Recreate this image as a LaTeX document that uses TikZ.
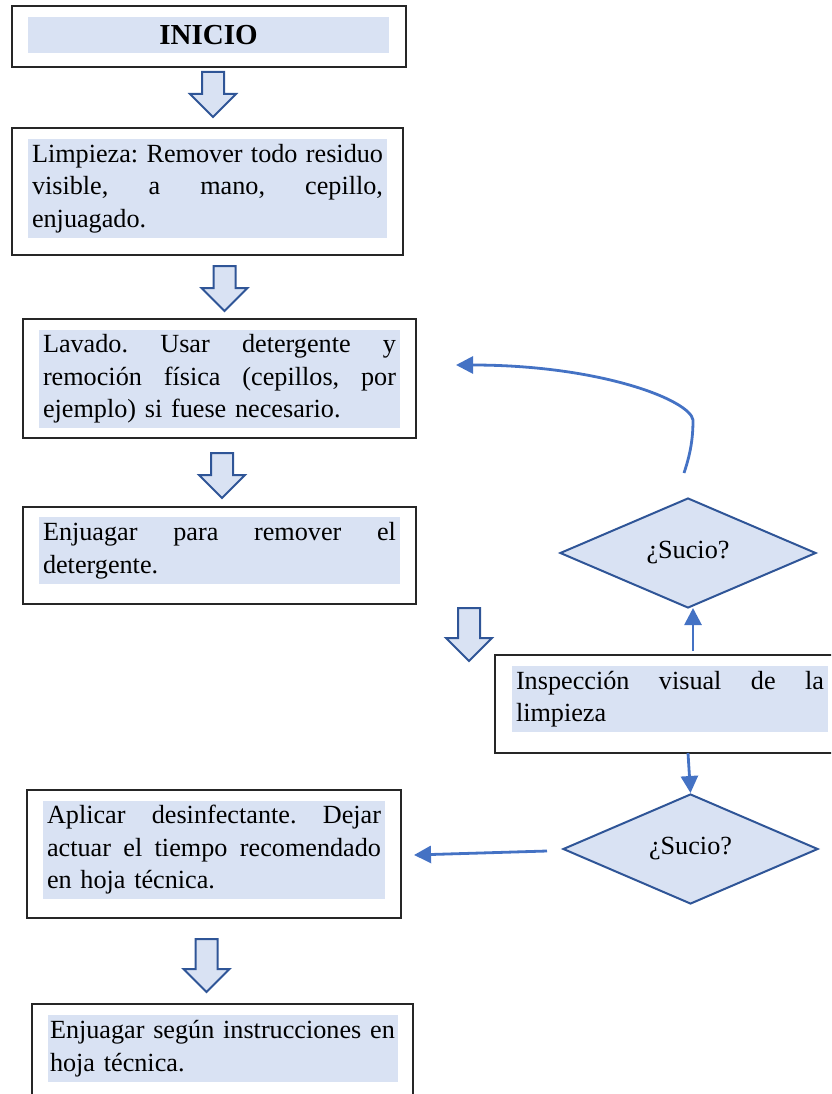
\documentclass[tikz,border=0pt]{standalone}
\usepackage{fontspec}
\setmainfont{Liberation Serif}
\usetikzlibrary{shapes.geometric,arrows.meta}
\definecolor{hlblue}{HTML}{D9E2F3}
\definecolor{darkblue}{HTML}{2F5597}
\definecolor{linkblue}{HTML}{4472C4}
\frenchspacing
% one justified line of a paragraph (interword glue allowed to stretch)
\newcommand\jline[1]{{\spaceskip=0pt\xspaceskip=0pt\makebox[\hsize][s]{#1}}\\}
% hollow block arrow pointing down: x, top y, length
\newcommand\blockdown[3]{%
  \draw[blockarrow] (#1-11,#2) -- (#1+11,#2) -- (#1+11,#2+#3-23) -- (#1+23,#2+#3-23)
    -- (#1,#2+#3) -- (#1-23,#2+#3-23) -- (#1-11,#2+#3-23) -- cycle;}
\begin{document}
\begin{tikzpicture}[x=1pt,y=-1pt,
  box/.style={draw=black!85, line width=1.3pt, fill=white, inner sep=0pt},
  hl/.style={fill=hlblue, inner xsep=4pt, inner ysep=0pt, align=left,
    font=\fontsize{26.2}{32.5}\selectfont},
  dia/.style={diamond, draw=darkblue, fill=hlblue, line width=2pt, inner sep=0pt,
    font=\fontsize{26.2}{32.5}\selectfont},
  blockarrow/.style={draw=darkblue, fill=hlblue, line width=2pt, line join=miter},
  link/.style={draw=linkblue, line width=2.8pt, -{Triangle[length=17pt,width=17pt]}}]
\useasboundingbox (0,0) rectangle (831,1094);
\clip (0,0) rectangle (831,1094);

% start box
\node[box, minimum width=394, minimum height=61] (b1) at (209,36.5) {};
\node[hl, minimum width=361, minimum height=36, align=center,
  font=\fontsize{29}{32}\selectfont\bfseries] (t1) at (208.5,35) {INICIO};
\blockdown{213}{72}{45}

% cleaning
\node[box, minimum width=391, minimum height=127] (b2) at (207.5,191.5) {};
\node[hl, text width=351, minimum height=99] (t2) at (207.5,188.5)
  {\jline{Limpieza: Remover todo residuo}\jline{visible, a mano, cepillo,}enjuagado.};
\blockdown{224.5}{266}{45}

% washing
\node[box, minimum width=393, minimum height=119] (b3) at (219.5,378.5) {};
\node[hl, text width=353, minimum height=98] (t3) at (219.5,379)
  {\jline{Lavado. Usar detergente y}\jline{remoción física (cepillos, por}ejemplo) si fuese necesario.};
\blockdown{222}{453}{45}

% rinsing
\node[box, minimum width=393, minimum height=97] (b4) at (219.5,555.5) {};
\node[hl, text width=353, minimum height=67] (t4) at (219.5,550.5)
  {\jline{Enjuagar para remover el}detergente.};
\blockdown{469}{608}{53}

% visual inspection
\node[box, minimum width=350, minimum height=98] (b5) at (670,704) {};
\node[hl, text width=308, minimum height=66] (t5) at (670,699)
  {\jline{Inspección visual de la}limpieza};

% decisions
\node[dia, minimum width=256, minimum height=110] (d1) at (688,553) {¿Sucio?};
\node[dia, minimum width=255, minimum height=110] (d2) at (690.5,849) {¿Sucio?};

% disinfection
\node[box, minimum width=374, minimum height=128] (b6) at (214,854) {};
\node[hl, text width=334, minimum height=98] (t6) at (214,850)
  {\jline{Aplicar desinfectante. Dejar}\jline{actuar el tiempo recomendado}en hoja técnica.};
\blockdown{206.5}{939}{53}

% final rinse
\node[box, minimum width=381, minimum height=106] (b7) at (222.5,1057) {};
\node[hl, inner xsep=2pt, text width=346, minimum height=67] (t7) at (223,1048.5)
  {Enjuagar según instrucciones en\\hoja técnica.};

% connectors
\coordinate (u1) at (693,651);
\coordinate (u1t) at (693,608);
\draw[link] (u1) -- (u1t);
\coordinate (u2) at (688,753);
\draw[link] (u2) -- (d2.north);
\coordinate (u3) at (547,851);
\coordinate (v3) at (414,855);
\draw[link] (u3) -- (v3);
\coordinate (r1) at (684,473);
\coordinate (r2) at (693,420);
\coordinate (r3) at (456,365);
\draw[link] (r1) .. controls (690,455) and (693,440) .. (r2)
  .. controls (690,400) and (600,365) .. (r3);
\end{tikzpicture}
\end{document}
